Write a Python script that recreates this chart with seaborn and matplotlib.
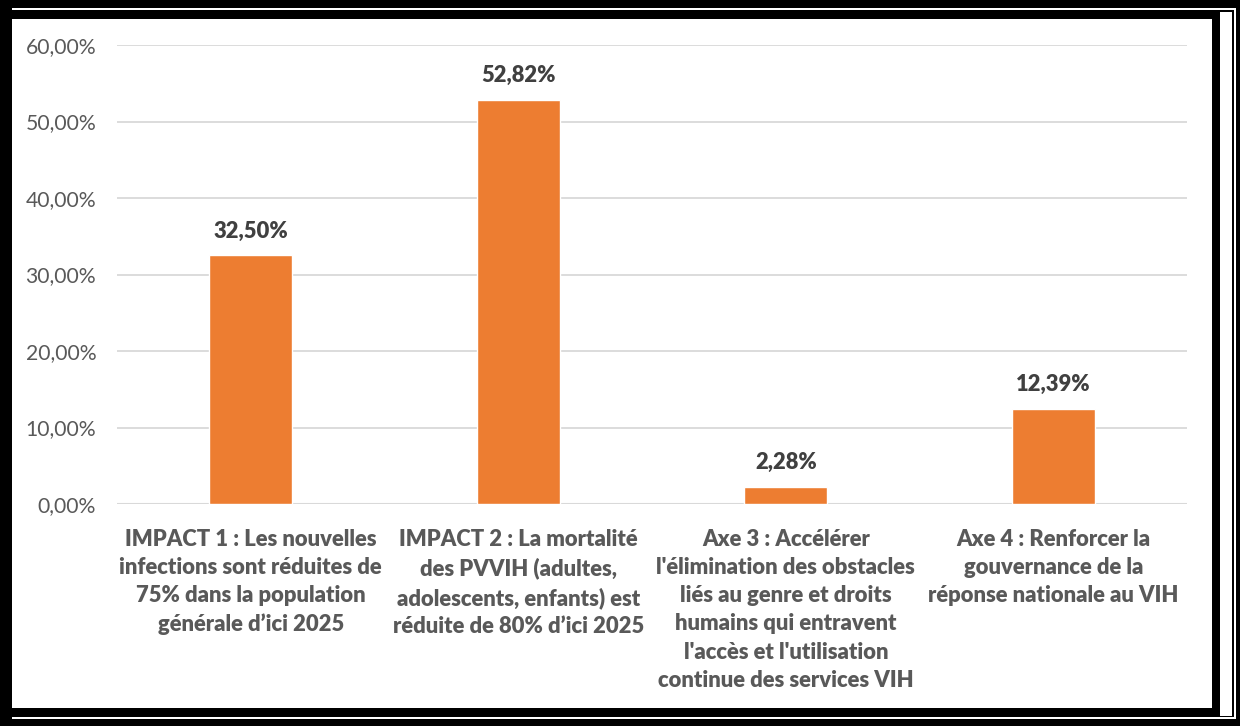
import matplotlib
matplotlib.use("Agg")
import matplotlib.pyplot as plt
from matplotlib.patches import Rectangle
from matplotlib.ticker import FuncFormatter
import seaborn as sns
import pandas as pd

categories = [
    "IMPACT 1 : Les nouvelles\ninfections sont réduites de\n75% dans la population\ngénérale d\u2019ici 2025",
    "IMPACT 2 : La mortalité\ndes PVVIH (adultes,\nadolescents, enfants) est\nréduite de 80% d\u2019ici 2025",
    "Axe 3 : Accélérer\nl'élimination des obstacles\nliés au genre et droits\nhumains qui entravent\nl'accès et l'utilisation\ncontinue des services VIH",
    "Axe 4 : Renforcer la\ngouvernance de la\nréponse nationale au VIH",
]
values = [32.50, 52.82, 2.28, 12.39]
yticks = [0, 10, 20, 30, 40, 50, 60]

df = pd.DataFrame({"cat": categories, "val": values})

sns.set_theme(style="white")
plt.rcParams["font.family"] = ["Lato", "DejaVu Sans"]

W, H = 1240, 726
fig = plt.figure(figsize=(W / 100, H / 100), dpi=100)
fig.patch.set_facecolor("white")

def px_rect(x0, y0, x1, y1, color):
    fig.add_artist(Rectangle((x0 / W, 1 - y1 / H), (x1 - x0) / W, (y1 - y0) / H,
                             transform=fig.transFigure, facecolor=color,
                             edgecolor="none", zorder=0))

# Double black frame around the chart
px_rect(0, 0, W, H, "black")
px_rect(12, 8, 1236, 9.5, "white")
px_rect(12, 717, 1236, 718.5, "white")
px_rect(1234, 8, 1235.5, 718.5, "white")
px_rect(1220, 12, 1232, 716, "white")
px_rect(12, 19, 1212, 708, "white")

ax = fig.add_axes([117 / W, 1 - 504 / H, (1187 - 117) / W, (504 - 45) / H])
ax.set_facecolor("none")

sns.barplot(data=df, x="cat", y="val", color="#ED7D31", saturation=1,
            width=0.31, ax=ax, zorder=3)

ax.set_ylim(0, 60)
ax.set_xlim(-0.5, 3.5)
ax.set_yticks(yticks)
ax.yaxis.set_major_formatter(FuncFormatter(lambda v, p: f"{v:.2f}%".replace(".", ",")))
ax.grid(axis="y", color="#D9D9D9", linewidth=1.3, zorder=0)
for s in ax.spines.values():
    s.set_visible(False)
ax.axhline(0, color="#D9D9D9", linewidth=1.5, zorder=2)
ax.tick_params(axis="y", length=0, pad=15, labelsize=15.2, labelcolor="#595959")
ax.tick_params(axis="x", length=0, pad=18, labelsize=15.8, labelcolor="#595959")
for lbl in ax.get_xticklabels():
    lbl.set_fontweight("heavy")
    lbl.set_linespacing(1.42)
ax.set_xlabel("")
ax.set_ylabel("")

for i, v in enumerate(values):
    ax.annotate(f"{v:.2f}%".replace(".", ","), (i, v), xytext=(0, 10),
                textcoords="offset points", ha="center", va="bottom",
                fontsize=15.8, fontweight="heavy", color="#404040")

fig.savefig("out.png", dpi=100)
